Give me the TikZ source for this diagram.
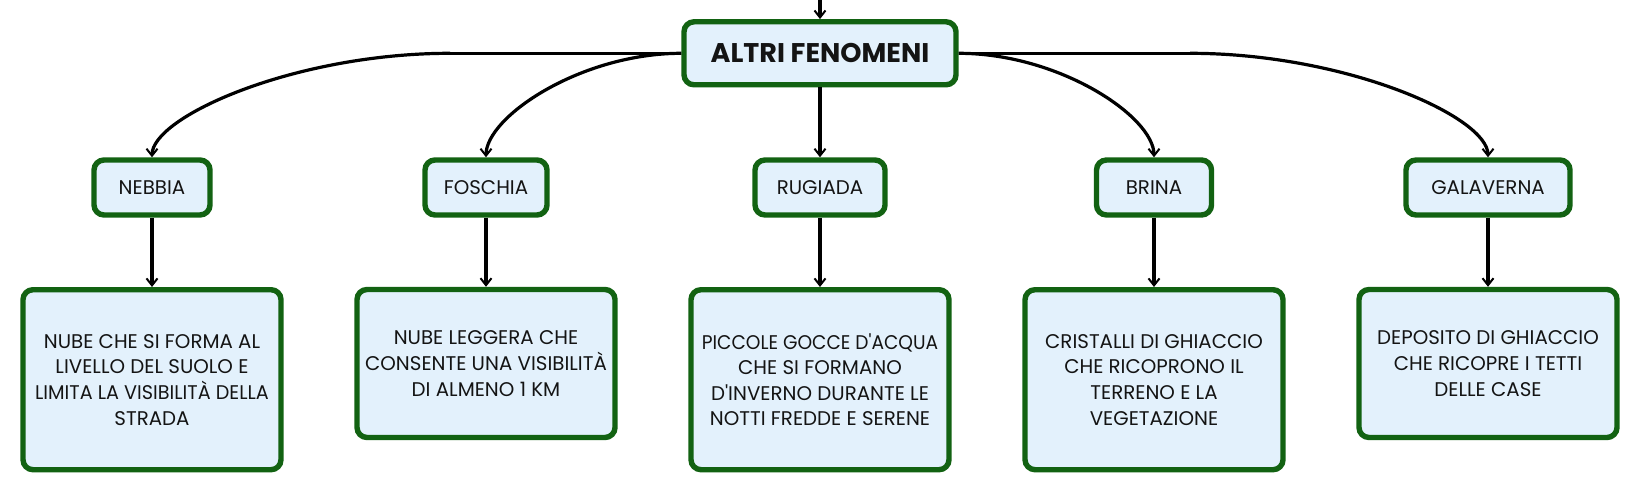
\documentclass[tikz,border=0pt]{standalone}
\usepackage{fontspec}
\usepackage{graphicx}
\setmainfont{Poppins}[Ligatures=TeXOff]
\usetikzlibrary{arrows.meta}
\definecolor{bordgreen}{RGB}{18,98,18}
\definecolor{boxfill}{RGB}{227,241,252}
\definecolor{txt}{RGB}{20,20,20}
\tikzset{
  box/.style={draw=bordgreen, line width=5.4pt, fill=boxfill, rounded corners=10pt,
    align=center, text=txt, inner sep=0pt,
    font=\fontsize{19.8}{25.6}\selectfont},
  titlebox/.style={box, minimum width=272pt, minimum height=63pt,
    font=\fontsize{27}{32}\selectfont\bfseries},
  lvltwo/.style={box, minimum height=55pt},
  desc/.style={box, minimum width=258pt},
  conn/.style={draw=black, line width=3.2pt, -{Straight Barb[length=7pt,width=11pt,line width=2pt]}},
  plain/.style={draw=black, line width=3.2pt}
}
\begin{document}
\begin{tikzpicture}[x=1pt,y=-1pt]
\useasboundingbox (0,0) rectangle (1640,494);
\node[titlebox] (alt) at (820,53.3) {ALTRI FENOMENI};
\node[lvltwo, minimum width=116pt] (neb) at (152,187.5) {NEBBIA};
\node[lvltwo, minimum width=122pt] (fos) at (486,187.5) {FOSCHIA};
\node[lvltwo, minimum width=130pt] (rug) at (820,187.5) {RUGIADA};
\node[lvltwo, minimum width=115pt] (bri) at (1154,187.5) {BRINA};
\node[lvltwo, minimum width=164pt] (gal) at (1488,187.5) {GALAVERNA};
\node[desc, minimum height=180pt] (d1) at (152,379.7) {NUBE CHE SI FORMA AL\\LIVELLO DEL SUOLO E\\\scalebox{0.97}[1]{LIMITA LA VISIBILITÀ DELLA}\\STRADA};
\node[desc, minimum height=148pt] (d2) at (486,363.5) {NUBE LEGGERA CHE\\CONSENTE UNA VISIBILITÀ\\DI ALMENO 1 KM};
\node[desc, minimum height=180pt] (d3) at (820,379.7) {\scalebox{0.94}[1]{PICCOLE GOCCE D'ACQUA}\\CHE SI FORMANO\\D'INVERNO DURANTE LE\\NOTTI FREDDE E SERENE};
\node[desc, minimum height=180pt] (d4) at (1154,379.7) {CRISTALLI DI GHIACCIO\\CHE RICOPRONO IL\\TERRENO E LA\\VEGETAZIONE};
\node[desc, minimum height=148pt] (d5) at (1488,363.5) {DEPOSITO DI GHIACCIO\\CHE RICOPRE I TETTI\\DELLE CASE};
\coordinate (top) at (820,0);
\coordinate (nl) at (450,53.3);
\coordinate (gl) at (1190,53.3);
\draw[conn] (top) -- (alt.north);
\draw[plain] (alt.west) -- (nl);
\draw[conn] (nl) .. controls (295,53.3) and (152,116.6) .. (neb.north);
\draw[conn] (alt.west) .. controls (581,53.3) and (486,116.6) .. (fos.north);
\draw[conn] (alt.south) -- (rug.north);
\draw[conn] (alt.east) .. controls (1059,53.3) and (1154,116.6) .. (bri.north);
\draw[plain] (alt.east) -- (gl);
\draw[conn] (gl) .. controls (1345,53.3) and (1488,116.6) .. (gal.north);
\draw[conn] (neb.south) -- (d1.north);
\draw[conn] (fos.south) -- (d2.north);
\draw[conn] (rug.south) -- (d3.north);
\draw[conn] (bri.south) -- (d4.north);
\draw[conn] (gal.south) -- (d5.north);
\end{tikzpicture}
\end{document}
